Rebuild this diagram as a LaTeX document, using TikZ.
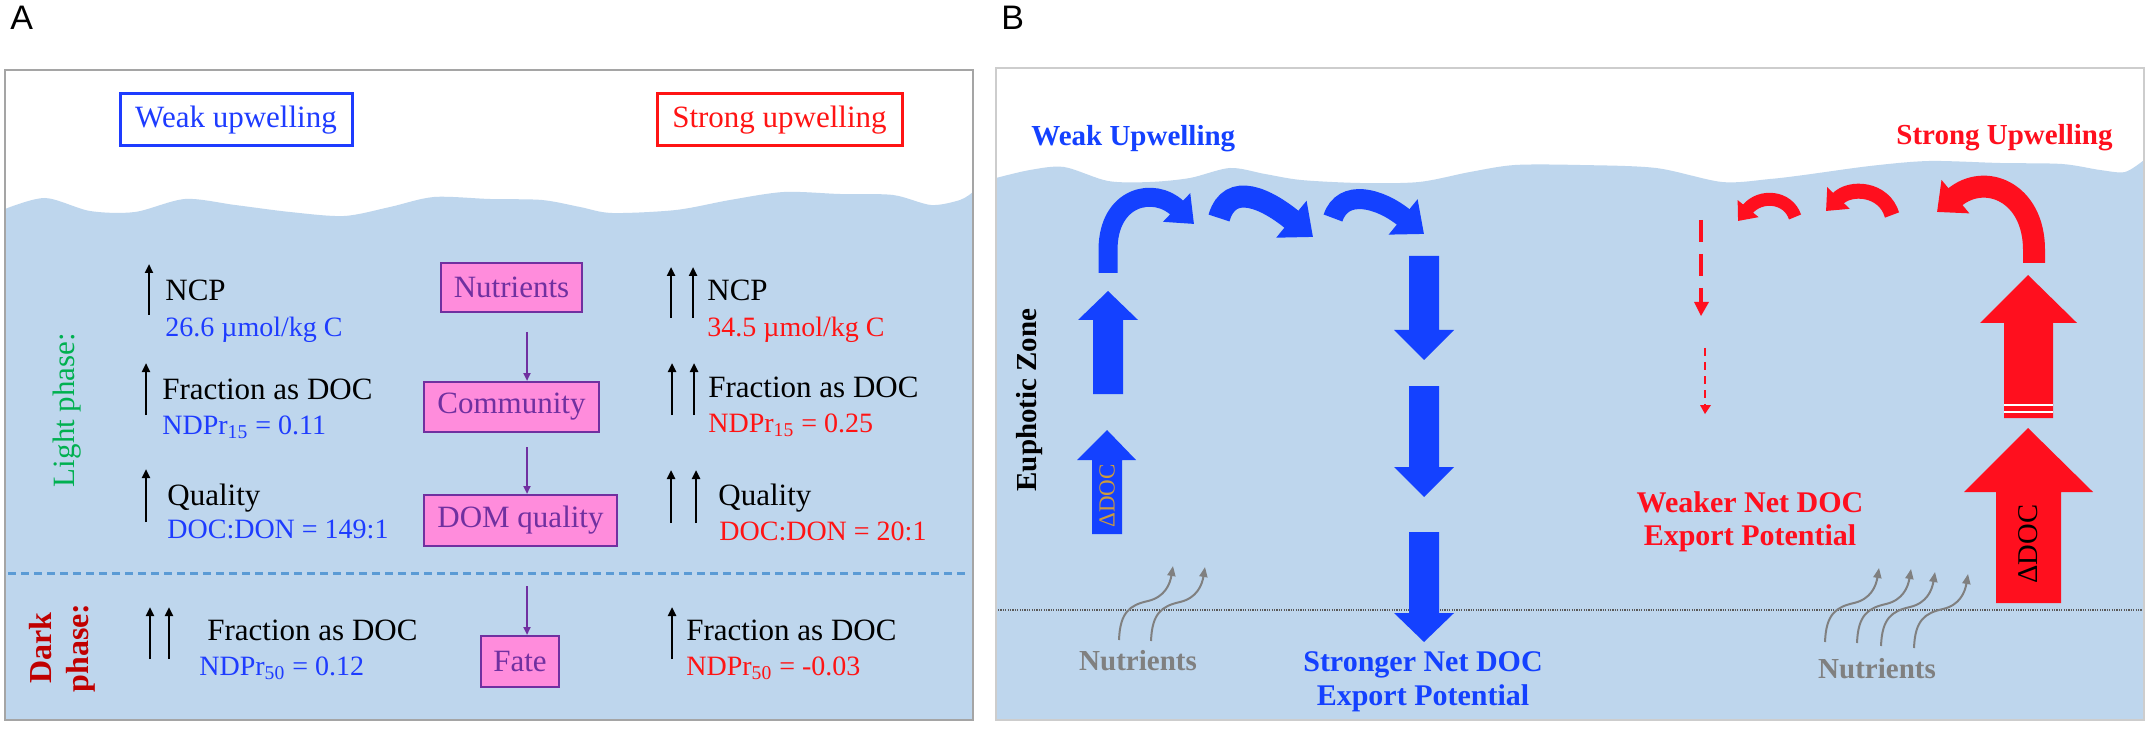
\documentclass[tikz,border=0pt]{standalone}
\usepackage{fontspec}
\setmainfont{Liberation Serif}
\newfontfamily\labfont{Liberation Sans}
\usetikzlibrary{arrows.meta,calc}
\definecolor{sea}{RGB}{190,214,237}
\definecolor{tblue}{RGB}{30,60,255}
\definecolor{tred}{RGB}{255,20,20}
\definecolor{agreen}{RGB}{0,176,80}
\definecolor{dred}{RGB}{192,0,0}
\definecolor{boxfill}{RGB}{255,140,220}
\definecolor{boxpurple}{RGB}{112,48,160}
\definecolor{ablue}{RGB}{20,65,255}
\definecolor{ared}{RGB}{255,15,30}
\definecolor{dgold}{RGB}{205,155,60}
\definecolor{ngray}{RGB}{128,128,128}
\definecolor{framegray}{RGB}{165,165,165}
\definecolor{framegrayB}{RGB}{205,205,205}
\definecolor{dashblue}{RGB}{91,155,213}
\begin{document}
\begin{tikzpicture}[x=0.5pt,y=-0.5pt,
  txt/.style={inner sep=0pt, anchor=base west, font=\fontsize{15.5}{18}\selectfont},
  val/.style={inner sep=0pt, anchor=base west, font=\fontsize{14}{16}\selectfont},
  blk/.style={black, line width=1.2pt, -{Triangle[length=4.5pt,width=4pt]}},
  pbox/.style={draw=boxpurple, line width=1pt, fill=boxfill, text=boxpurple, inner sep=0pt, font=\fontsize{15.5}{18}\selectfont},
  parrow/.style={boxpurple, line width=1pt, -{Triangle[length=4pt,width=3.5pt]}},
  upbox/.style={line width=1.5pt, fill=white, inner sep=0pt, minimum height=26pt, font=\fontsize{15.5}{18}\selectfont},
  btxt/.style={inner sep=0pt, font=\bfseries\fontsize{14.5}{17}\selectfont},
  ngarrow/.style={ngray, line width=1pt, -{Triangle[length=5pt,width=4pt]}},
  nutarrow/.pic={\draw[ngarrow] (0,0) .. controls +(1,-28) and +(-18,4) .. (29,-39) .. controls +(17,-4) and +(-3,18) .. (54,-74);},
  panellab/.style={inner sep=0pt, anchor=base west, font=\labfont\fontsize{17}{20}\selectfont}
]
\useasboundingbox (0,0) rectangle (2150,732);
\fill[white] (0,0) rectangle (2150,732);

% ---------------- Panel A ----------------
\node[panellab] (labA) at (10,30) {A};
\fill[sea] plot[smooth, tension=0.5] coordinates {(5,209) (45,198) (90,211) (135,212) (185,199) (235,205) (290,212) (344,216) (390,207) (434,197) (490,199) (542,200) (580,207) (612,213) (676,210) (730,200) (784,192) (840,194) (893,195) (931,205) (960,200) (973,192)} -- (973,720) -- (5,720) -- cycle;
\draw[framegray, line width=1.3pt] (5,70) rectangle (973,720);
\draw[dashblue, line width=1.5pt, dash pattern=on 4pt off 2.5pt] (8,573) -- (966,573);

\node[upbox, draw=tblue, text=tblue, minimum width=116pt] (weakA) at (236,120) {Weak upwelling};
\node[upbox, draw=tred, text=tred, minimum width=122.5pt] (strongA) at (779.5,120) {Strong upwelling};

\node[rotate=90, text=agreen, inner sep=0pt, font=\fontsize{15.5}{18}\selectfont] (light) at (67,410) {Light phase:};
\node[rotate=90, text=dred, inner sep=0pt, align=center, font=\bfseries\fontsize{16}{18.5}\selectfont] (dark) at (62,648) {Dark\\phase:};

% left column
\draw[blk] (149,315) -- (149,264);
\node[txt] (ncpL) at (165,301) {NCP};
\node[val, text=tblue] (ncpLv) at (165,336) {26.6 µmol/kg C};
\draw[blk] (146,415) -- (146,363);
\node[txt] (fracL) at (162,400) {Fraction as DOC};
\node[val, text=tblue] (fracLv) at (162,434) {NDPr\textsubscript{15} = 0.11};
\draw[blk] (146,522) -- (146,469);
\node[txt] (qualL) at (167,505) {Quality};
\node[val, text=tblue] (qualLv) at (167,538) {DOC:DON = 149:1};
\draw[blk] (150,659) -- (150,607);
\draw[blk] (169,659) -- (169,607);
\node[txt] (darkL) at (207,640) {Fraction as DOC};
\node[val, text=tblue] (darkLv) at (199,675) {NDPr\textsubscript{50} = 0.12};

% right column
\draw[blk] (671,318) -- (671,267);
\draw[blk] (693,318) -- (693,267);
\node[txt] (ncpR) at (707,301) {NCP};
\node[val, text=tred] (ncpRv) at (707,336) {34.5 µmol/kg C};
\draw[blk] (672,415) -- (672,363);
\draw[blk] (694,415) -- (694,363);
\node[txt] (fracR) at (708,397) {Fraction as DOC};
\node[val, text=tred] (fracRv) at (708,432) {NDPr\textsubscript{15} = 0.25};
\draw[blk] (671,523) -- (671,470);
\draw[blk] (696,523) -- (696,470);
\node[txt] (qualR) at (718,505) {Quality};
\node[val, text=tred] (qualRv) at (719,540) {DOC:DON = 20:1};
\draw[blk] (672,659) -- (672,607);
\node[txt] (darkR) at (686,640) {Fraction as DOC};
\node[val, text=tred] (darkRv) at (686,675) {NDPr\textsubscript{50} = -0.03};

% center chain
\node[pbox, minimum width=70.5pt, minimum height=24.5pt] (nut) at (511.5,287.5) {Nutrients};
\node[pbox, minimum width=87.5pt, minimum height=25pt] (comm) at (511.5,407) {Community};
\node[pbox, minimum width=96.5pt, minimum height=25.5pt] (dom) at (520.5,520.5) {DOM quality};
\node[pbox, minimum width=39pt, minimum height=25.5pt] (fate) at (520,661.5) {Fate};
\coordinate (ax) at (527,0);
\draw[parrow] ($(nut.south -| ax)+(0,19)$) -- (comm.north -| ax);
\draw[parrow] ($(comm.south -| ax)+(0,14)$) -- (dom.north -| ax);
\draw[parrow] ($(dom.south -| ax)+(0,39)$) -- (fate.north -| ax);

% ---------------- Panel B ----------------
\node[panellab] (labB) at (1001,30) {B};
\fill[sea] plot[smooth, tension=0.5] coordinates {(996,178) (1030,170) (1064,167) (1108,181) (1150,182) (1190,178) (1230,168) (1265,174) (1301,180) (1360,183) (1419,182) (1470,172) (1515,165) (1580,165) (1656,168) (1722,182) (1770,179) (1804,175) (1870,166) (1929,161) (2000,163) (2062,164) (2100,170) (2125,172) (2144,160)} -- (2144,720) -- (996,720) -- cycle;
\draw[framegrayB, line width=1pt] (996,68) rectangle (2144,720);
\draw[black!65, line width=0.9pt, dash pattern=on 0.6pt off 0.6pt] (998,610) -- (2142,610);

\node[btxt, text=ablue, anchor=base west] (weakB) at (1031,146) {Weak Upwelling};
\node[btxt, text=ared, anchor=base east] (strongB) at (2113,145) {Strong Upwelling};
\node[btxt, rotate=90] (euph) at (1030,400) {Euphotic Zone};

% blue straight arrows
\fill[ablue] (1093,394) -- (1093,320) -- (1078,320) -- (1108,291) -- (1138,320) -- (1123,320) -- (1123,394) -- cycle;
\fill[ablue] (1092,534) -- (1092,460) -- (1077,460) -- (1107,430) -- (1136,460) -- (1122,460) -- (1122,534) -- cycle;
\node[rotate=90, text=dgold, inner sep=0pt, font=\fontsize{11.5}{13}\selectfont] (ddocB) at (1107,496) {ΔDOC};
\fill[ablue] (1409,256) -- (1439,256) -- (1439,330) -- (1454,330) -- (1424,360) -- (1394,330) -- (1409,330) -- cycle;
\fill[ablue] (1409,386) -- (1439,386) -- (1439,467) -- (1454,467) -- (1424,497) -- (1394,467) -- (1409,467) -- cycle;
\fill[ablue] (1409,532) -- (1439,532) -- (1439,613) -- (1454,613) -- (1424,642) -- (1394,613) -- (1409,613) -- cycle;

% blue curved arrows
\draw[ablue, line width=9.5pt, -{Triangle[length=12pt,width=19pt]}] (1108,273) -- (1108,250) .. controls (1108,196) and (1154,186) .. (1194,224);
\draw[ablue, line width=11pt, -{Triangle[length=14pt,width=23pt]}] (1219,218) .. controls (1230,180) and (1268,200) .. (1313,237);
\draw[ablue, line width=10pt, -{Triangle[length=13.5pt,width=22pt]}] (1333,218) .. controls (1343,188) and (1380,198) .. (1424,234);

% red curved arrows
\draw[ared, line width=6.5pt, -{Triangle[length=8pt,width=13pt]}] (1795,217) .. controls (1788,196) and (1760,194) .. (1738,221);
\draw[ared, line width=7.5pt, -{Triangle[length=9pt,width=15pt]}] (1892,215) .. controls (1884,188) and (1850,186) .. (1826,211);
\draw[ared, line width=11pt, -{Triangle[length=12pt,width=21pt]}] (2034,263) -- (2034,250) .. controls (2034,192) and (1985,172) .. (1937,212);

% red up arrows
\fill[ared] (2004,418) -- (2004,323) -- (1980,323) -- (2028,275) -- (2077,323) -- (2053,323) -- (2053,418) -- cycle;
\draw[white, line width=0.8pt] (2004,405) -- (2053,405);
\draw[white, line width=0.8pt] (2004,412) -- (2053,412);
\fill[ared] (1996,603) -- (1996,492) -- (1964,492) -- (2028,428) -- (2093,492) -- (2061,492) -- (2061,603) -- cycle;
\node[rotate=90, inner sep=0pt, font=\fontsize{14.3}{16}\selectfont] (ddocR) at (2028,544) {ΔDOC};

% red dashed arrows
\draw[ared, line width=2pt, dash pattern=on 11pt off 6pt] (1701,220) -- (1701,303);
\fill[ared] (1694,302) -- (1709,302) -- (1701,316) -- cycle;
\draw[ared, line width=1pt, dash pattern=on 4pt off 3pt] (1705,348) -- (1705,405);
\fill[ared] (1700,405) -- (1711,405) -- (1705,414) -- cycle;

% nutrients arrows
\pic at (1119,640) {nutarrow};
\pic at (1151,641) {nutarrow};
\pic at (1825,642) {nutarrow};
\pic at (1857,643) {nutarrow};
\pic at (1881,646) {nutarrow};
\pic at (1914,648) {nutarrow};
\node[btxt, text=ngray, anchor=base] (nutL) at (1138,670) {Nutrients};
\node[btxt, text=ngray, anchor=base] (nutR) at (1877,678) {Nutrients};

% export texts
\node[btxt, text=ablue, anchor=base, font=\bfseries\fontsize{15}{17}\selectfont] (strong1) at (1423,671) {Stronger Net DOC};
\node[btxt, text=ablue, anchor=base, font=\bfseries\fontsize{15}{17}\selectfont] (strong2) at (1423,705) {Export Potential};
\node[btxt, text=ared, anchor=base, font=\bfseries\fontsize{15}{17}\selectfont] (weak1) at (1750,512) {Weaker Net DOC};
\node[btxt, text=ared, anchor=base, font=\bfseries\fontsize{15}{17}\selectfont] (weak2) at (1750,545) {Export Potential};
\end{tikzpicture}
\end{document}
